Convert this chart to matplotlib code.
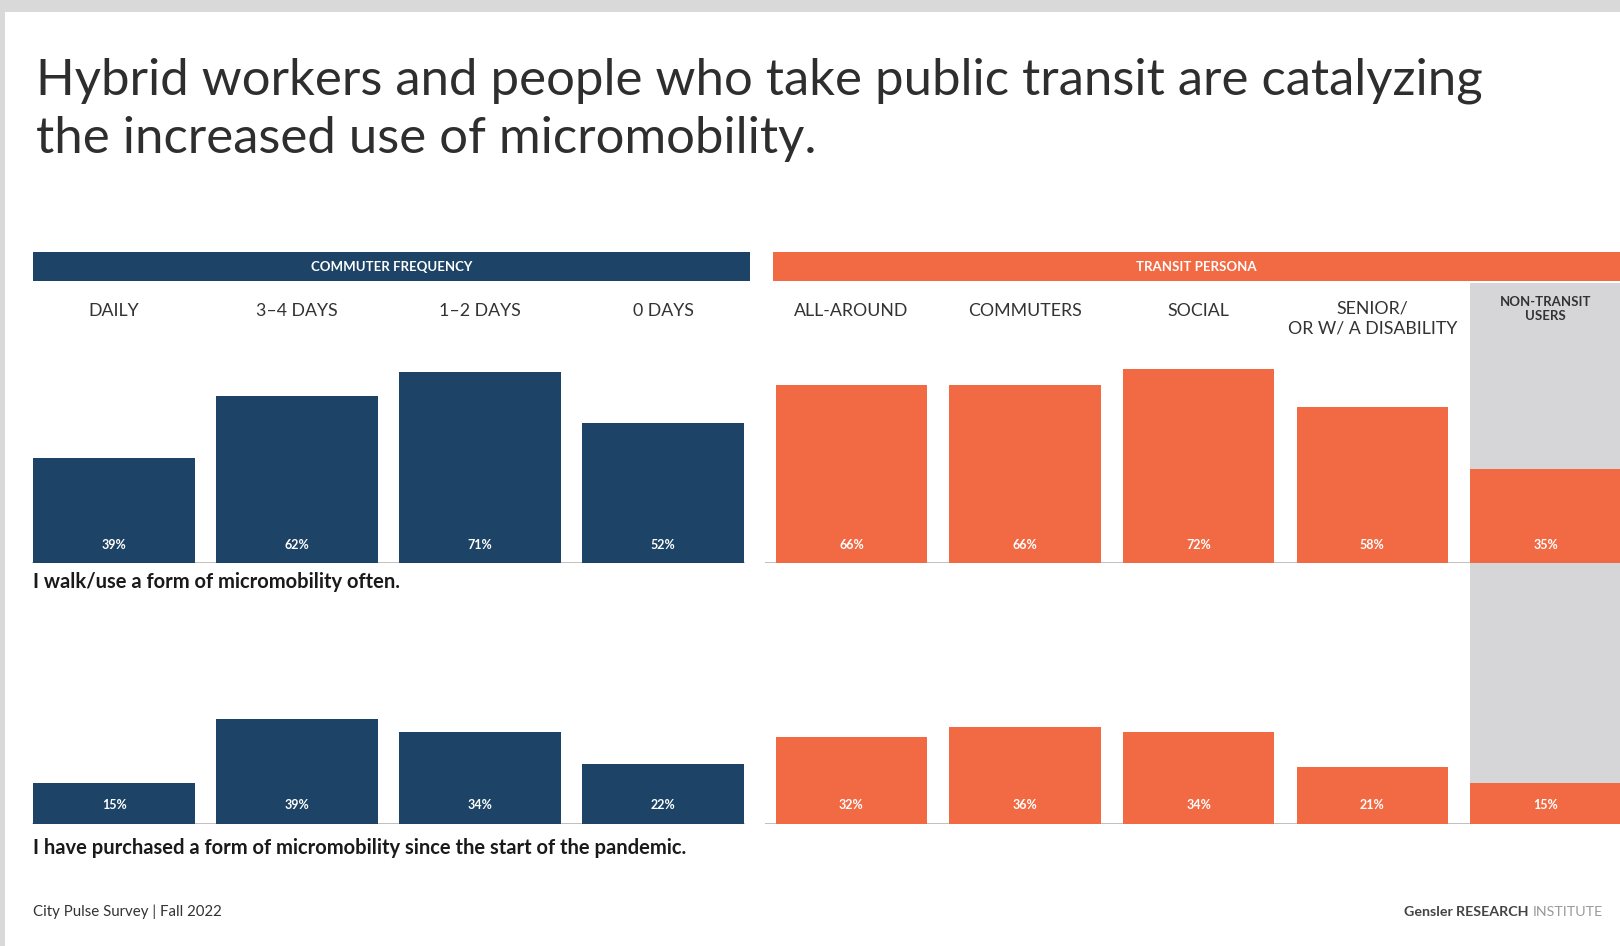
import matplotlib
matplotlib.use("Agg")
import matplotlib.pyplot as plt
from matplotlib.patches import Rectangle
from matplotlib.transforms import blended_transform_factory

# ---- survey results (percent of respondents) ----
freq_labels = ["DAILY", "3–4 DAYS", "1–2 DAYS", "0 DAYS"]
persona_labels = ["ALL-AROUND", "COMMUTERS", "SOCIAL", "SENIOR/\nOR W/ A DISABILITY", "NON-TRANSIT\nUSERS"]
walk_freq = [39, 62, 71, 52]
walk_persona = [66, 66, 72, 58, 35]
bought_freq = [15, 39, 34, 22]
bought_persona = [32, 36, 34, 21, 15]

title_lines = ["Hybrid workers and people who take public transit are catalyzing",
               "the increased use of micromobility."]
caption_walk = "I walk/use a form of micromobility often."
caption_bought = "I have purchased a form of micromobility since the start of the pandemic."
source_note = "City Pulse Survey | Fall 2022"

NAVY = "#1d4466"
ORANGE = "#f26a43"
SHADE = "#d6d6d9"
FRAME = "#d9d9d9"
TEXT = "#2e2e2e"
FONT = ["Lato", "DejaVu Sans"]

W, H = 1620, 946
fig = plt.figure(figsize=(W / 100, H / 100), dpi=100)
fig.patch.set_facecolor("white")


def fx(px):
    return px / W


def fy(py):
    return 1 - py / H


def axes_px(left, top, width, height):
    return fig.add_axes([fx(left), fy(top + height), width / W, height / H])


def fig_rect(x0, y0, x1, y1, color, z=0):
    fig.add_artist(Rectangle((fx(x0), fy(y1)), (x1 - x0) / W, (y1 - y0) / H,
                             transform=fig.transFigure, color=color, lw=0, zorder=z))


# page frame
fig_rect(0, 0, W, 12, FRAME)
fig_rect(0, 0, 5, H, FRAME)

# title
fig.text(fx(36), fy(94), title_lines[0], fontsize=36.6, family=FONT,
         color=TEXT, va="baseline")
fig.text(fx(36), fy(153), title_lines[1], fontsize=36.6, family=FONT,
         color=TEXT, va="baseline")

# group headers
fig_rect(33, 252, 750, 281, NAVY)
fig_rect(773, 252, W, 281, ORANGE)
fig.text(fx((33 + 750) / 2), fy(267), "COMMUTER FREQUENCY", fontsize=9.5, color="white",
         weight="bold", family=FONT, ha="center", va="center")
fig.text(fx((773 + W) / 2), fy(267), "TRANSIT PERSONA", fontsize=9.5, color="white",
         weight="bold", family=FONT, ha="center", va="center")

PX_PER_PCT = 2.692
TOP_BASE, BOT_BASE = 563.1, 823.5
TOP_MAX, BOT_MAX = 80, 45

groups = [
    dict(labels=freq_labels, top=walk_freq, bottom=bought_freq, color=NAVY,
         left=22.6, pitch=183.0, width=0.885),
    dict(labels=persona_labels, top=walk_persona, bottom=bought_persona, color=ORANGE,
         left=764.6, pitch=173.6, width=0.87),
]

for g in groups:
    n = len(g["labels"])
    span = n * g["pitch"]
    xs = list(range(n))

    # shaded column behind the non-transit users
    if n == 5:
        bg = axes_px(g["left"], 283, span, BOT_BASE - 283)
        bg.set_xlim(-0.5, n - 0.5)
        bg.set_ylim(0, 1)
        bg.axvspan(xs[-1] - g["width"] / 2, xs[-1] + g["width"] / 2, color=SHADE, lw=0)
        bg.axis("off")
        bg.set_zorder(0)

    for vals, base, ymax in ((g["top"], TOP_BASE, TOP_MAX), (g["bottom"], BOT_BASE, BOT_MAX)):
        h = ymax * PX_PER_PCT
        ax = axes_px(g["left"], base - h, span, h)
        ax.set_zorder(1)
        ax.patch.set_alpha(0)
        ax.set_xlim(-0.5, n - 0.5)
        ax.set_ylim(0, ymax)
        ax.axis("off")
        ax.bar(xs, vals, width=g["width"], color=g["color"], lw=0, zorder=2)
        edge = 0.5 / n - g["width"] / (2 * n)
        ax.axhline(0, color="#b5b5b5", lw=1.2, zorder=1,
                   xmin=0 if n == 5 else edge, xmax=1 if n == 5 else 1 - edge)
        for x, v in zip(xs, vals):
            ax.annotate(f"{v}%", (x, 0), xytext=(0, 13.3), textcoords="offset points",
                        ha="center", va="center", color="white", fontsize=9,
                        weight="bold", family=FONT, zorder=3)

    # category labels above the bars
    tr = blended_transform_factory(ax.transData, fig.transFigure)
    for x, lab in zip(xs, g["labels"]):
        if lab.startswith("NON-TRANSIT"):
            ax.text(x, fy(296), lab, transform=tr, ha="center", va="top", fontsize=9.5,
                    weight="bold", family=FONT, color="#333333", linespacing=1.2,
                    clip_on=False)
        elif "\n" in lab:
            ax.text(x, fy(301), lab, transform=tr, ha="center", va="top", fontsize=12.8,
                    family=FONT, color="#333333", linespacing=1.25, clip_on=False)
        else:
            ax.text(x, fy(311.5), lab, transform=tr, ha="center", va="center", fontsize=12.8,
                    family=FONT, color="#333333", clip_on=False)

# statements under each row
fig.text(fx(33), fy(582), caption_walk, fontsize=14.5, weight="bold", family=FONT,
         color="#1a1a1a", va="center")
fig.text(fx(33), fy(848), caption_bought, fontsize=14.5, weight="bold", family=FONT,
         color="#1a1a1a", va="center")

# footer
fig.text(fx(33), fy(912), source_note, fontsize=10.8, family=FONT, color="#333333", va="center")
brand = fig.text(fx(1404), fy(912), "Gensler ", fontsize=10.3, weight="bold", family=FONT,
                 color="#444444", va="center")
fig.canvas.draw()
bb = brand.get_window_extent()
r2 = fig.text(bb.x1 / W, fy(912), "RESEARCH ", fontsize=10.3, weight="bold", family=FONT,
              color="#444444", va="center")
fig.canvas.draw()
bb2 = r2.get_window_extent()
fig.text(bb2.x1 / W, fy(912), "INSTITUTE", fontsize=10.3, family=FONT,
         color="#9a9a9a", va="center")

fig.savefig("out.png", dpi=100, facecolor="white")
